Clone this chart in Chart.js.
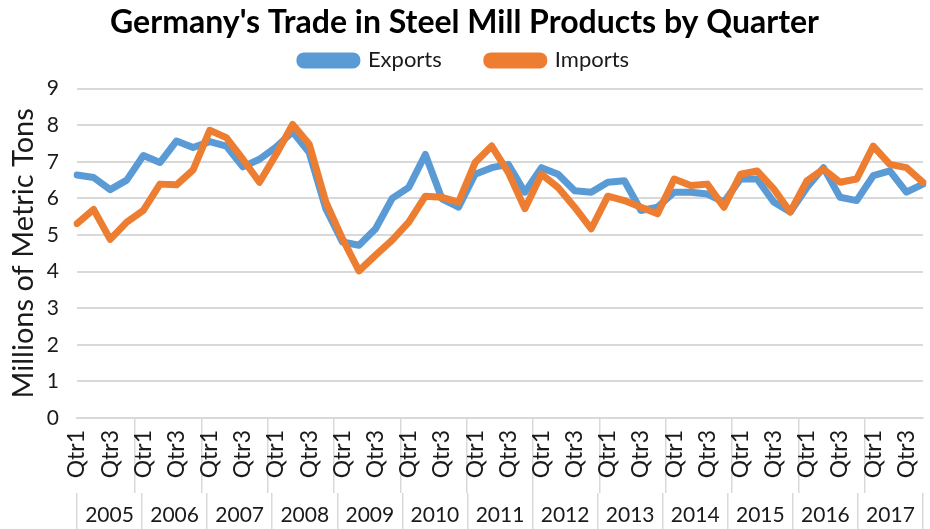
<!DOCTYPE html>
<html>
<head>
<meta charset="utf-8">
<script src="https://cdn.jsdelivr.net/npm/chart.js@4/dist/chart.umd.min.js"></script>
<style>
  html, body { margin: 0; padding: 0; background: #fff; }
</style>
</head>
<body>
<canvas id="chart" width="930" height="529"></canvas>
<script>
const years = ['2005', '2006', '2007', '2008', '2009', '2010', '2011', '2012', '2013', '2014', '2015', '2016', '2017'];
const quarters = ['Qtr1', 'Qtr2', 'Qtr3', 'Qtr4'];
const yTicks = [0, 1, 2, 3, 4, 5, 6, 7, 8, 9];

// millions of metric tons, one value per quarter 2005 Q1 .. 2017 Q4
const exportsData = [
    6.64, 6.57, 6.24, 6.50,  7.17, 6.98, 7.57, 7.39,  7.55, 7.43, 6.86, 7.07,
    7.40, 7.82, 7.25, 5.72,  4.81, 4.72, 5.17, 6.00,  6.30, 7.20, 5.99, 5.76,
    6.66, 6.84, 6.93, 6.17,  6.84, 6.66, 6.21, 6.17,  6.44, 6.48, 5.67, 5.76,
    6.17, 6.17, 6.12, 5.90,  6.53, 6.53, 5.90, 5.63,  6.30, 6.84, 6.03, 5.94,
    6.62, 6.75, 6.17, 6.39
];
const importsData = [
    5.31, 5.70, 4.88, 5.35,  5.67, 6.39, 6.37, 6.78,  7.86, 7.66, 7.07, 6.44,
    7.20, 8.02, 7.48, 5.90,  4.90, 4.02, 4.45, 4.86,  5.35, 6.06, 6.03, 5.90,
    6.98, 7.43, 6.71, 5.72,  6.66, 6.30, 5.76, 5.17,  6.06, 5.94, 5.76, 5.58,
    6.53, 6.35, 6.39, 5.76,  6.66, 6.75, 6.26, 5.63,  6.48, 6.80, 6.44, 6.53,
    7.43, 6.93, 6.84, 6.44
];

const quarterLabels = years.flatMap(() => quarters);
const fontFamily = 'Lato, "Open Sans", sans-serif';
const textColor = '#1a1a1a';
const lineGrey = '#d9d9d9';

new Chart(document.getElementById('chart'), {
    type: 'line',
    data: {
        labels: quarterLabels,
        datasets: [
            {
                label: 'Exports',
                data: exportsData,
                borderColor: '#5b9bd5',
                backgroundColor: '#5b9bd5',
                order: 1
            },
            {
                label: 'Imports',
                data: importsData,
                borderColor: '#ed7d31',
                backgroundColor: '#ed7d31',
                order: 0
            }
        ]
    },
    options: {
        responsive: false,
        animation: false,
        layout: { padding: { left: 6, right: 7, top: 0, bottom: 0 } },
        elements: {
            line: { borderWidth: 7, tension: 0, borderJoinStyle: 'round', borderCapStyle: 'round' },
            point: { radius: 0 }
        },
        plugins: {
            title: {
                display: true,
                text: "Germany's Trade in Steel Mill Products by Quarter",
                color: '#000',
                font: { family: fontFamily, size: 32, weight: 'bold' },
                padding: { top: 3, bottom: -4 }
            },
            // empty spacer between legend and plot
            subtitle: {
                display: true,
                text: '',
                weight: 500,
                font: { size: 1 },
                padding: { top: 6, bottom: 0 }
            },
            legend: {
                labels: {
                    color: textColor,
                    font: { family: fontFamily, size: 22 },
                    boxWidth: 57,
                    boxHeight: 9,
                    useBorderRadius: true,
                    borderRadius: 4,
                    padding: 12,
                    generateLabels: (chart) => {
                        const items = Chart.defaults.plugins.legend.labels.generateLabels(chart);
                        items.sort((a, b) => a.datasetIndex - b.datasetIndex);
                        // wider gap after the first entry, like the original legend
                        items[0].text += '\u2003\u2003';
                        return items;
                    }
                }
            },
            tooltip: { enabled: false }
        },
        scales: {
            y: {
                min: 0,
                max: 9,
                afterBuildTicks: (scale) => { scale.ticks = yTicks.map(v => ({ value: v })); },
                ticks: {
                    color: textColor,
                    font: { family: fontFamily, size: 21 },
                    padding: 18
                },
                grid: { color: lineGrey, lineWidth: 2, drawTicks: false },
                border: { display: false },
                title: {
                    display: true,
                    text: 'Millions of Metric Tons',
                    color: textColor,
                    font: { family: fontFamily, size: 29 },
                    padding: { top: 0, bottom: 0 }
                },
                afterFit: (scale) => { scale.width = 71; }
            },
            x: {
                ticks: {
                    color: textColor,
                    font: { family: fontFamily, size: 23 },
                    autoSkip: false,
                    minRotation: 90,
                    maxRotation: 90,
                    padding: -63,
                    callback: (value, index) => (index % 2 === 0 ? quarterLabels[index] : '')
                },
                grid: {
                    offset: true,
                    drawOnChartArea: false,
                    tickLength: 75,
                    lineWidth: 1.5,
                    color: (ctx) => (ctx.index === undefined || ctx.index % 4 === 0 ? lineGrey : 'transparent')
                },
                border: { display: true, color: lineGrey, width: 2 },
                afterFit: (scale) => { scale.height = 75; }
            },
            x2: {
                type: 'category',
                position: 'bottom',
                labels: years,
                offset: true,
                ticks: {
                    color: textColor,
                    font: { family: fontFamily, size: 21 },
                    maxRotation: 0,
                    autoSkip: false,
                    padding: -26
                },
                grid: {
                    offset: true,
                    drawOnChartArea: false,
                    tickLength: 36,
                    lineWidth: 1.5,
                    color: lineGrey
                },
                border: { display: false },
                afterFit: (scale) => { scale.height = 36; }
            }
        }
    }
});
</script>
</body>
</html>
